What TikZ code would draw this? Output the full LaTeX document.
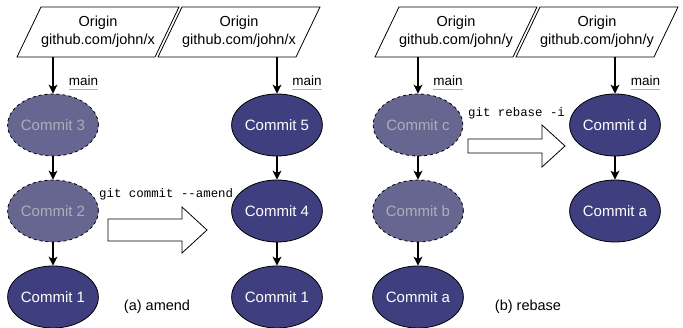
\documentclass[tikz,border=0pt]{standalone}
\usepackage{fontspec}
\setmainfont{Liberation Sans}
\setmonofont{Liberation Mono}
\usetikzlibrary{arrows.meta,shapes.geometric,calc}

\definecolor{commitfill}{HTML}{3F3F7F}
\definecolor{oldfill}{HTML}{666690}
\definecolor{oldtext}{HTML}{ADADBA}

% slanted box drawn round the centre of a node
\def\slantbox(#1){\draw[line width=0.8pt] ($(#1)+(-57,-25)$) -- ($(#1)+(81,-25)$) -- ($(#1)+(57,25)$) -- ($(#1)+(-81,25)$) -- cycle;}

\tikzset{
	origin/.style={rectangle, minimum width=138pt, minimum height=50pt, inner sep=0pt, align=center, font=\fontsize{14.5}{18}\selectfont},
	commit/.style={ellipse, draw, line width=0.8pt, fill=commitfill, text=white, minimum width=87pt, minimum height=62pt, inner sep=0pt, font=\fontsize{15}{17}\selectfont},
	oldcommit/.style={commit, dashed, fill=oldfill, text=oldtext},
	link/.style={-{Stealth[length=9pt,width=9pt,inset=2.5pt]}, line width=1.2pt},
	branch/.style={anchor=base, inner sep=0pt, font=\fontsize{13.5}{16}\selectfont},
	underline/.style={black!30, line width=0.8pt},
	gitcmd/.style={anchor=west, inner sep=0pt, font=\ttfamily\fontsize{12.4}{14}\selectfont},
	bigarrow/.style={draw, fill=white, line width=0.8pt},
	caption/.style={font=\fontsize{14.5}{17}\selectfont}
}

\begin{document}
\begin{tikzpicture}[x=1pt, y=-1pt]
	\useasboundingbox (0, 0) rectangle (683, 328);

	%%%%% (a) amend %%%%%

	\node[origin] (ox1) at (98, 32) {Origin\\github.com/john/x};
	\slantbox(ox1)
	\node[origin] (ox2) at (239, 32) {Origin\\github.com/john/x};
	\slantbox(ox2)

	\node[oldcommit] (c3) at (53, 125) {Commit 3};
	\node[oldcommit] (c2) at (53, 211) {Commit 2};
	\node[commit] (c1) at (53, 297) {Commit 1};

	\node[commit] (c5) at (277, 125) {Commit 5};
	\node[commit] (c4) at (277, 211) {Commit 4};
	\node[commit] (c1b) at (277, 297) {Commit 1};

	\draw[link] (ox1.south -| c3) -- (c3);
	\draw[link] (c3) -- (c2);
	\draw[link] (c2) -- (c1);
	\draw[link] (ox2.south -| c5) -- (c5);
	\draw[link] (c5) -- (c4);
	\draw[link] (c4) -- (c1b);

	\node[branch] (mx1) at (83.5, 86) {main};
	\draw[underline] ([yshift=-3pt]mx1.base west) -- ([yshift=-3pt]mx1.base east);
	\node[branch] (mx2) at (307, 86) {main};
	\draw[underline] ([yshift=-3pt]mx2.base west) -- ([yshift=-3pt]mx2.base east);

	\node[gitcmd] (amend) at (99, 194) {git commit --amend};
	\draw[bigarrow] (108, 219) -- (182, 219) -- (182, 207) -- (207, 230) -- (182, 253) -- (182, 241) -- (108, 241) -- cycle;

	\node[caption] (capa) at (157, 307) {(a) amend};

	%%%%% (b) rebase %%%%%

	\node[origin] (oy1) at (456, 32) {Origin\\github.com/john/y};
	\slantbox(oy1)
	\node[origin] (oy2) at (597, 32) {Origin\\github.com/john/y};
	\slantbox(oy2)

	\node[oldcommit] (cc) at (418, 125) {Commit c};
	\node[oldcommit] (cb) at (418, 211) {Commit b};
	\node[commit] (ca) at (418, 297) {Commit a};

	\node[commit] (cd) at (615, 125) {Commit d};
	\node[commit] (cab) at (615, 211) {Commit a};

	\draw[link] (oy1.south -| cc) -- (cc);
	\draw[link] (cc) -- (cb);
	\draw[link] (cb) -- (ca);
	\draw[link] (oy2.south -| cd) -- (cd);
	\draw[link] (cd) -- (cab);

	\node[branch] (my1) at (448, 86) {main};
	\draw[underline] ([yshift=-3pt]my1.base west) -- ([yshift=-3pt]my1.base east);
	\node[branch] (my2) at (645.5, 86) {main};
	\draw[underline] ([yshift=-3pt]my2.base west) -- ([yshift=-3pt]my2.base east);

	\node[gitcmd] (rebase) at (468, 113) {git rebase -i};
	\draw[bigarrow] (468, 139) -- (542, 139) -- (542, 125) -- (565, 146) -- (542, 167) -- (542, 153) -- (468, 153) -- cycle;

	\node[caption] (capb) at (528, 307) {(b) rebase};
\end{tikzpicture}
\end{document}
